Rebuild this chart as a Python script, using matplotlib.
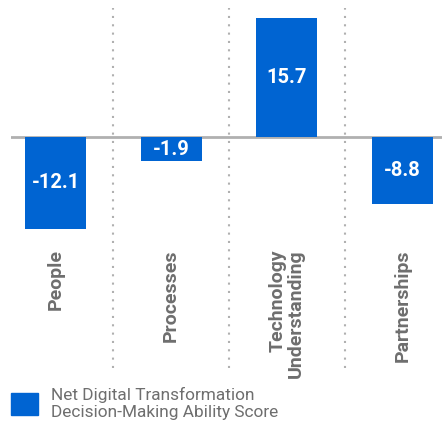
import numpy as np
import matplotlib
matplotlib.use("Agg")
from matplotlib import pyplot as plt
from matplotlib.patches import Patch

# datos
categorias = ["People", "Processes", "Technology\nUnderstanding", "Partnerships"]
valores = [-12.1, -1.9, 15.7, -8.8]
etiquetas = ["-12.1", "-1.9", "15.7", "-8.8"]
leyenda = "Net Digital Transformation\nDecision-Making Ability Score"

azul = "#0064d2"
gris_texto = "#6e6e6e"
gris_linea = "#b0b0b0"

plt.rcParams["font.family"] = ["Roboto", "DejaVu Sans"]

fig = plt.figure(figsize=(4.42, 4.29), dpi=100)
# ejes en pixeles: x de 11 a 442, y de 8 a 368 (desde arriba)
ax = fig.add_axes([11 / 442, (429 - 368) / 429, 431 / 442, 360 / 429])

x = np.arange(len(valores))
# altura minima para que la etiqueta entre en la barra
min_alto = 3.2
alturas = [np.sign(v) * max(abs(v), min_alto) for v in valores]
ax.bar(x, alturas, width=0.527, color=azul, zorder=2)

for xi, h, et in zip(x, alturas, etiquetas):
    ax.text(xi, h / 2, et, ha="center", va="center", color="white",
            fontsize=14.5, fontweight="bold", zorder=3)

# linea base
ax.axhline(0, color=gris_linea, lw=2, zorder=1)

# separadores punteados
for xs in [0.5, 1.5, 2.5]:
    ax.axvline(xs, color=gris_linea, lw=1.5, linestyle=(0, (1, 3)), zorder=0)

# categorias rotadas
for xi, cat in zip(x, categorias):
    ax.text(xi, -14.8, cat, rotation=90, ha="center", va="top",
            multialignment="right", color=gris_texto, fontsize=14,
            fontweight="bold", linespacing=1.0)

ax.set_xlim(-0.385, 3.341)
ax.set_ylim(-30.4, 16.97)
ax.axis("off")

fig.legend(handles=[Patch(color=azul)], labels=[leyenda], loc="upper left",
           bbox_to_anchor=(11 / 442, (429 - 387) / 429), frameon=False,
           fontsize=12.4, handlelength=1.57, handleheight=1.57,
           handletextpad=0.76, borderpad=0, borderaxespad=0,
           labelcolor=gris_texto)

fig.savefig("out.png", dpi=100)
